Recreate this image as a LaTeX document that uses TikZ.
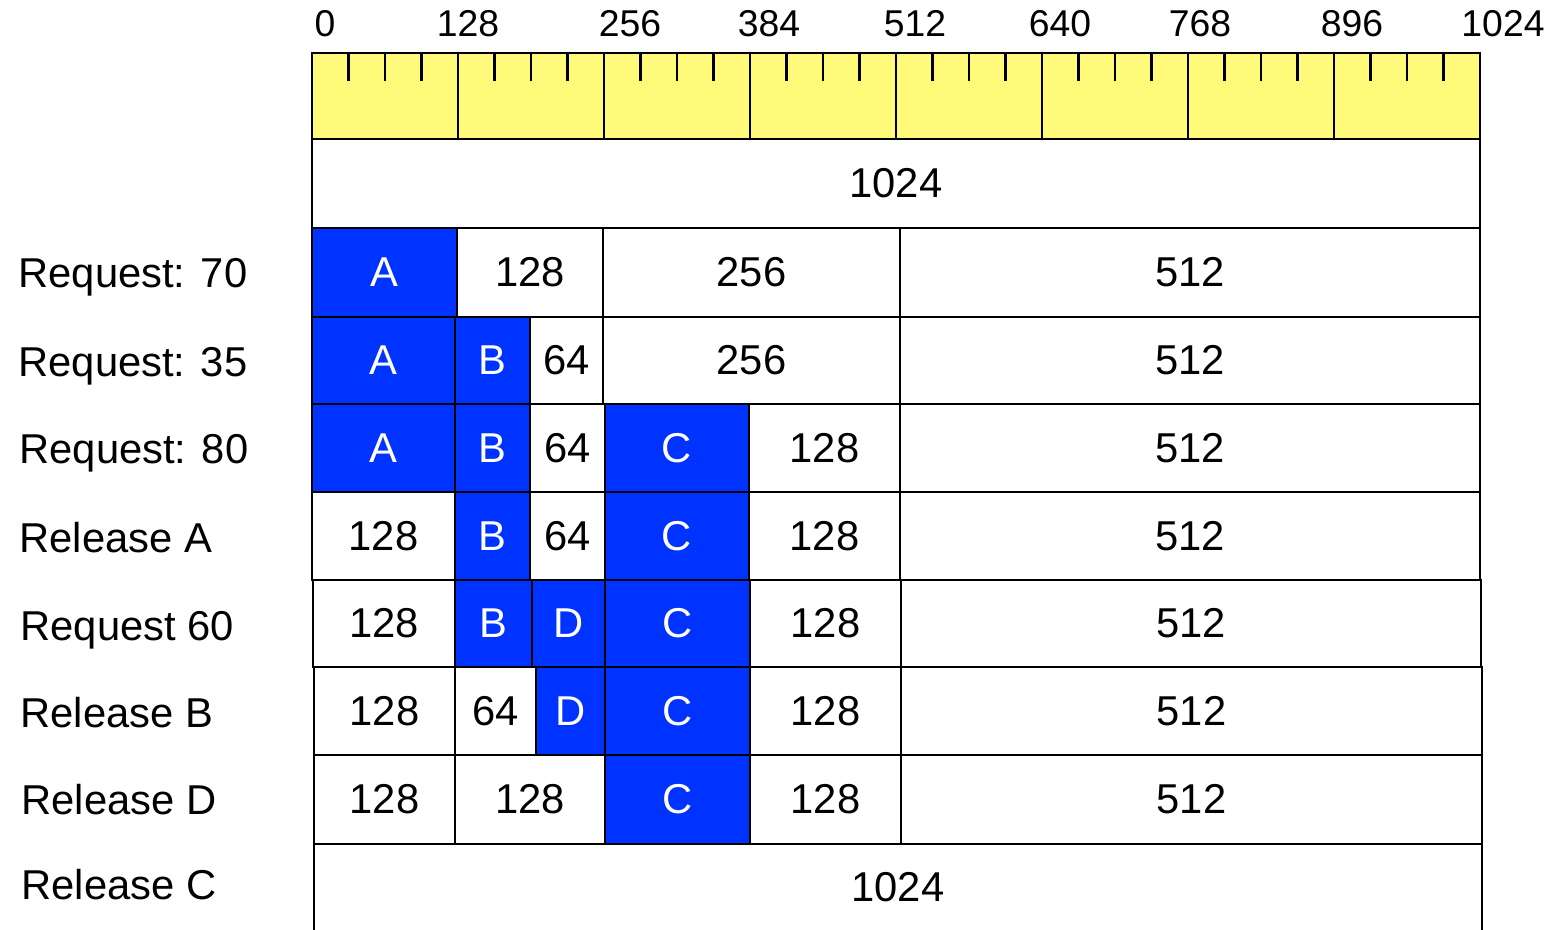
\documentclass[tikz,border=0pt]{standalone}
\usepackage{fontspec}
\setmainfont{Liberation Sans}
\definecolor{usedblue}{RGB}{0,51,255}
\definecolor{rulerfill}{RGB}{255,250,122}
\newcommand\cellfont{\fontsize{31.3}{34}\selectfont}
\newcommand\rulerfont{\fontsize{28}{30}\selectfont}
\newcommand\mcell[7]{%
  \path[#5] (#1,#2) rectangle (#3,#4);
  \node[#5txt] (#7) at ({(#1+#3)/2},{(#2+#4)/2}) {#6};}
\begin{document}
\begin{tikzpicture}[x=0.75pt,y=-0.75pt,line width=2.2pt,
  free/.style={draw=black,fill=white},
  used/.style={draw=black,fill=usedblue},
  freetxt/.style={text=black,font=\cellfont,inner sep=0pt},
  usedtxt/.style={text=white,font=\cellfont,inner sep=0pt},
  rowlbl/.style={anchor=base west,font=\cellfont,inner sep=0pt},
  rulerlbl/.style={font=\rulerfont,inner sep=0pt},
  tick/.style={draw=black,line width=2.2pt}]
\useasboundingbox (0,0) rectangle (1546,930);
\clip (0,0) rectangle (1546,930);
% ruler
\path[draw=black,fill=rulerfill] (312,53) rectangle (1480,139);
\foreach \i in {1,...,7} \draw[tick] ({312+146*\i},53) -- ({312+146*\i},139);
\foreach \i in {0,...,7} \foreach \j in {1,2,3}
  \draw[tick] ({312+146*\i+36.5*\j},53) -- ++(0,28);
\node[rulerlbl] (l0) at (325,23.5) {0};
\node[rulerlbl] (l1) at (468,23.5) {128};
\node[rulerlbl] (l2) at (630,23.5) {256};
\node[rulerlbl] (l3) at (769,23.5) {384};
\node[rulerlbl] (l4) at (915,23.5) {512};
\node[rulerlbl] (l5) at (1060,23.5) {640};
\node[rulerlbl] (l6) at (1200,23.5) {768};
\node[rulerlbl] (l7) at (1352,23.5) {896};
\node[rulerlbl] (l8) at (1503,23.5) {1024};
% row 0
\mcell{312}{139}{1480}{228}{free}{1024}{r0a}
% row 1
\mcell{312}{228}{457}{317}{used}{A}{r1a}
\mcell{457}{228}{603}{317}{free}{128}{r1b}
\mcell{603}{228}{900}{317}{free}{256}{r1c}
\mcell{900}{228}{1480}{317}{free}{512}{r1d}
% row 2
\mcell{312}{317}{455}{404}{used}{A}{r2a}
\mcell{455}{317}{530}{404}{used}{B}{r2b}
\mcell{530}{317}{603}{404}{free}{64}{r2c}
\mcell{603}{317}{900}{404}{free}{256}{r2d}
\mcell{900}{317}{1480}{404}{free}{512}{r2e}
% row 3
\mcell{312}{404}{455}{492}{used}{A}{r3a}
\mcell{455}{404}{530}{492}{used}{B}{r3b}
\mcell{530}{404}{605}{492}{free}{64}{r3c}
\mcell{605}{404}{749}{492}{used}{C}{r3d}
\mcell{749}{404}{900}{492}{free}{128}{r3e}
\mcell{900}{404}{1480}{492}{free}{512}{r3f}
% row 4
\mcell{312}{492}{455}{580}{free}{128}{r4a}
\mcell{455}{492}{530}{580}{used}{B}{r4b}
\mcell{530}{492}{605}{580}{free}{64}{r4c}
\mcell{605}{492}{749}{580}{used}{C}{r4d}
\mcell{749}{492}{900}{580}{free}{128}{r4e}
\mcell{900}{492}{1480}{580}{free}{512}{r4f}
% row 5
\mcell{313}{580}{455}{667}{free}{128}{r5a}
\mcell{455}{580}{532}{667}{used}{B}{r5b}
\mcell{532}{580}{605}{667}{used}{D}{r5c}
\mcell{605}{580}{750}{667}{used}{C}{r5d}
\mcell{750}{580}{901}{667}{free}{128}{r5e}
\mcell{901}{580}{1481}{667}{free}{512}{r5f}
% row 6
\mcell{314}{667}{455}{755}{free}{128}{r6a}
\mcell{455}{667}{536}{755}{free}{64}{r6b}
\mcell{536}{667}{605}{755}{used}{D}{r6c}
\mcell{605}{667}{750}{755}{used}{C}{r6d}
\mcell{750}{667}{901}{755}{free}{128}{r6e}
\mcell{901}{667}{1482}{755}{free}{512}{r6f}
% row 7
\mcell{314}{755}{455}{844}{free}{128}{r7a}
\mcell{455}{755}{605}{844}{free}{128}{r7b}
\mcell{605}{755}{750}{844}{used}{C}{r7c}
\mcell{750}{755}{901}{844}{free}{128}{r7d}
\mcell{901}{755}{1482}{844}{free}{512}{r7e}
% row 8 (runs off the bottom)
\path[free] (314,844) rectangle (1482,945);
\node[freetxt] (r8a) at (898,887) {1024};
% row labels
\node[rowlbl] (q1) at (17,288) {Request: 70};
\node[rowlbl] (q2) at (17,377) {Request: 35};
\node[rowlbl] (q3) at (18,464) {Request: 80};
\node[rowlbl] (q4) at (18,552) {Release A};
\node[rowlbl] (q5) at (19,640) {Request 60};
\node[rowlbl] (q6) at (19,727) {Release B};
\node[rowlbl] (q7) at (20,814) {Release D};
\node[rowlbl] (q8) at (20,899) {Release C};
\end{tikzpicture}
\end{document}
